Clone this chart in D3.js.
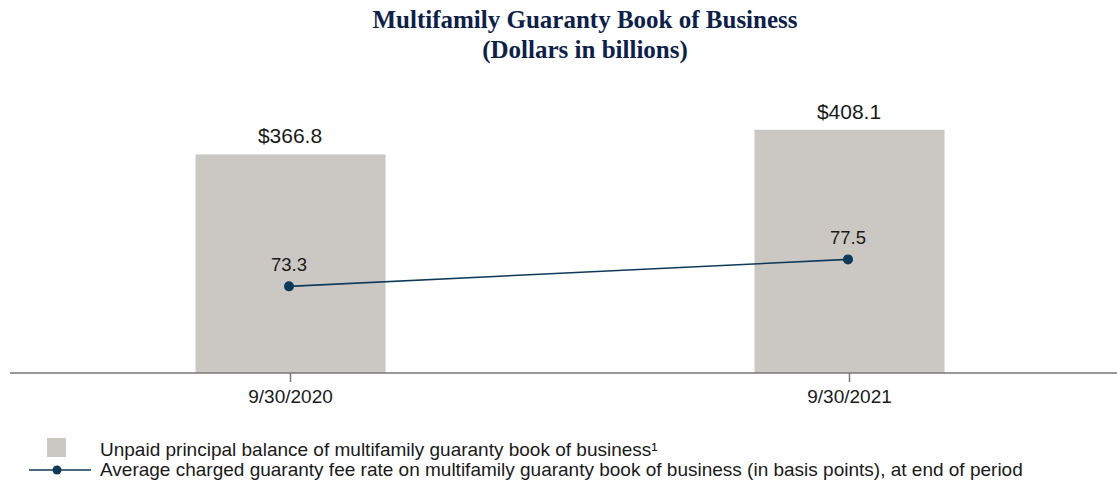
<!DOCTYPE html>
<html>
<head>
<meta charset="utf-8">
<script src="https://cdn.jsdelivr.net/npm/d3@7"></script>
<style>
  body { margin: 0; background: #fff; }
  svg text { font-family: "Liberation Sans", Arial, sans-serif; fill: #1a1a1a; }
</style>
</head>
<body>
<svg width="1117" height="482"></svg>
<script>
// data
const periods = ['9/30/2020', '9/30/2021'];
const upb = [366.8, 408.1];          // dollars in billions
const feeRate = [73.3, 77.5];        // basis points

const svg = d3.select('svg');
const baseY = 373;

// titles
svg.append('text').attr('x', 585).attr('y', 28).attr('text-anchor', 'middle')
  .style('font-family', '"Liberation Serif", "Times New Roman", serif')
  .style('font-weight', 'bold').style('font-size', '25px').style('fill', '#0d1f4a')
  .text('Multifamily Guaranty Book of Business');
svg.append('text').attr('x', 585).attr('y', 58).attr('text-anchor', 'middle')
  .style('font-family', '"Liberation Serif", "Times New Roman", serif')
  .style('font-weight', 'bold').style('font-size', '25px').style('fill', '#0d1f4a')
  .text('(Dollars in billions)');

const x = d3.scalePoint().domain(periods).range([290, 849]);
const barW = 190;

// bar scale starts at 0; ~0.6px per billion
const yBar = d3.scaleLinear().domain([0, 500]).range([baseY, baseY - 298]);
// fee rate line has its own axis, not from zero
const yLine = d3.scaleLinear().domain([59.8, 100]).range([baseY, baseY - 258]);

svg.selectAll('rect.bar').data(upb).enter().append('rect')
  .attr('class', 'bar')
  .attr('x', (d, i) => x(periods[i]) - barW / 2 + 0.5)
  .attr('y', d => yBar(d))
  .attr('width', barW)
  .attr('height', d => baseY - yBar(d))
  .attr('fill', '#cbc8c3');

svg.selectAll('text.barlab').data(upb).enter().append('text')
  .attr('class', 'barlab')
  .attr('x', (d, i) => x(periods[i]))
  .attr('y', d => yBar(d) - 11)
  .attr('text-anchor', 'middle')
  .style('font-size', '21px')
  .text(d => '$' + d.toFixed(1));

// axis line + ticks
svg.append('line').attr('x1', 10).attr('x2', 1117).attr('y1', baseY).attr('y2', baseY)
  .attr('stroke', '#777').attr('stroke-width', 1.5);
const axis = d3.axisBottom(x).tickSize(9).tickPadding(8);
const g = svg.append('g').attr('transform', `translate(0,${baseY})`).call(axis);
g.select('.domain').remove();
g.selectAll('line').attr('stroke', '#777').attr('stroke-width', 1.5);
g.selectAll('text').style('font-size', '19px').style('font-family', '"Liberation Sans", Arial, sans-serif').attr('fill', '#1a1a1a');

// fee rate line
const pts = feeRate.map((d, i) => [x(periods[i]) - 1, yLine(d)]);
svg.append('path').attr('d', d3.line()(pts))
  .attr('fill', 'none').attr('stroke', '#0e3a5a').attr('stroke-width', 1.6);
svg.selectAll('circle.pt').data(pts).enter().append('circle')
  .attr('class', 'pt')
  .attr('cx', d => d[0]).attr('cy', d => d[1]).attr('r', 5)
  .attr('fill', '#0e3a5a');
svg.selectAll('text.ptlab').data(feeRate).enter().append('text')
  .attr('class', 'ptlab')
  .attr('x', (d, i) => pts[i][0])
  .attr('y', (d, i) => pts[i][1] - 15)
  .attr('text-anchor', 'middle')
  .style('font-size', '18.5px')
  .text(d => d.toFixed(1));

// legend
svg.append('rect').attr('x', 47).attr('y', 438).attr('width', 19).attr('height', 19).attr('fill', '#cbc8c3');
svg.append('text').attr('x', 100).attr('y', 456).style('font-size', '19px')
  .text('Unpaid principal balance of multifamily guaranty book of business\u00B9');
svg.append('line').attr('x1', 29).attr('x2', 91).attr('y1', 470).attr('y2', 470)
  .attr('stroke', '#0e3a5a').attr('stroke-width', 1.6);
svg.append('circle').attr('cx', 57).attr('cy', 470).attr('r', 4.5).attr('fill', '#0e3a5a');
svg.append('text').attr('x', 100).attr('y', 476).style('font-size', '19px')
  .text('Average charged guaranty fee rate on multifamily guaranty book of business (in basis points), at end of period');
</script>
</body>
</html>
